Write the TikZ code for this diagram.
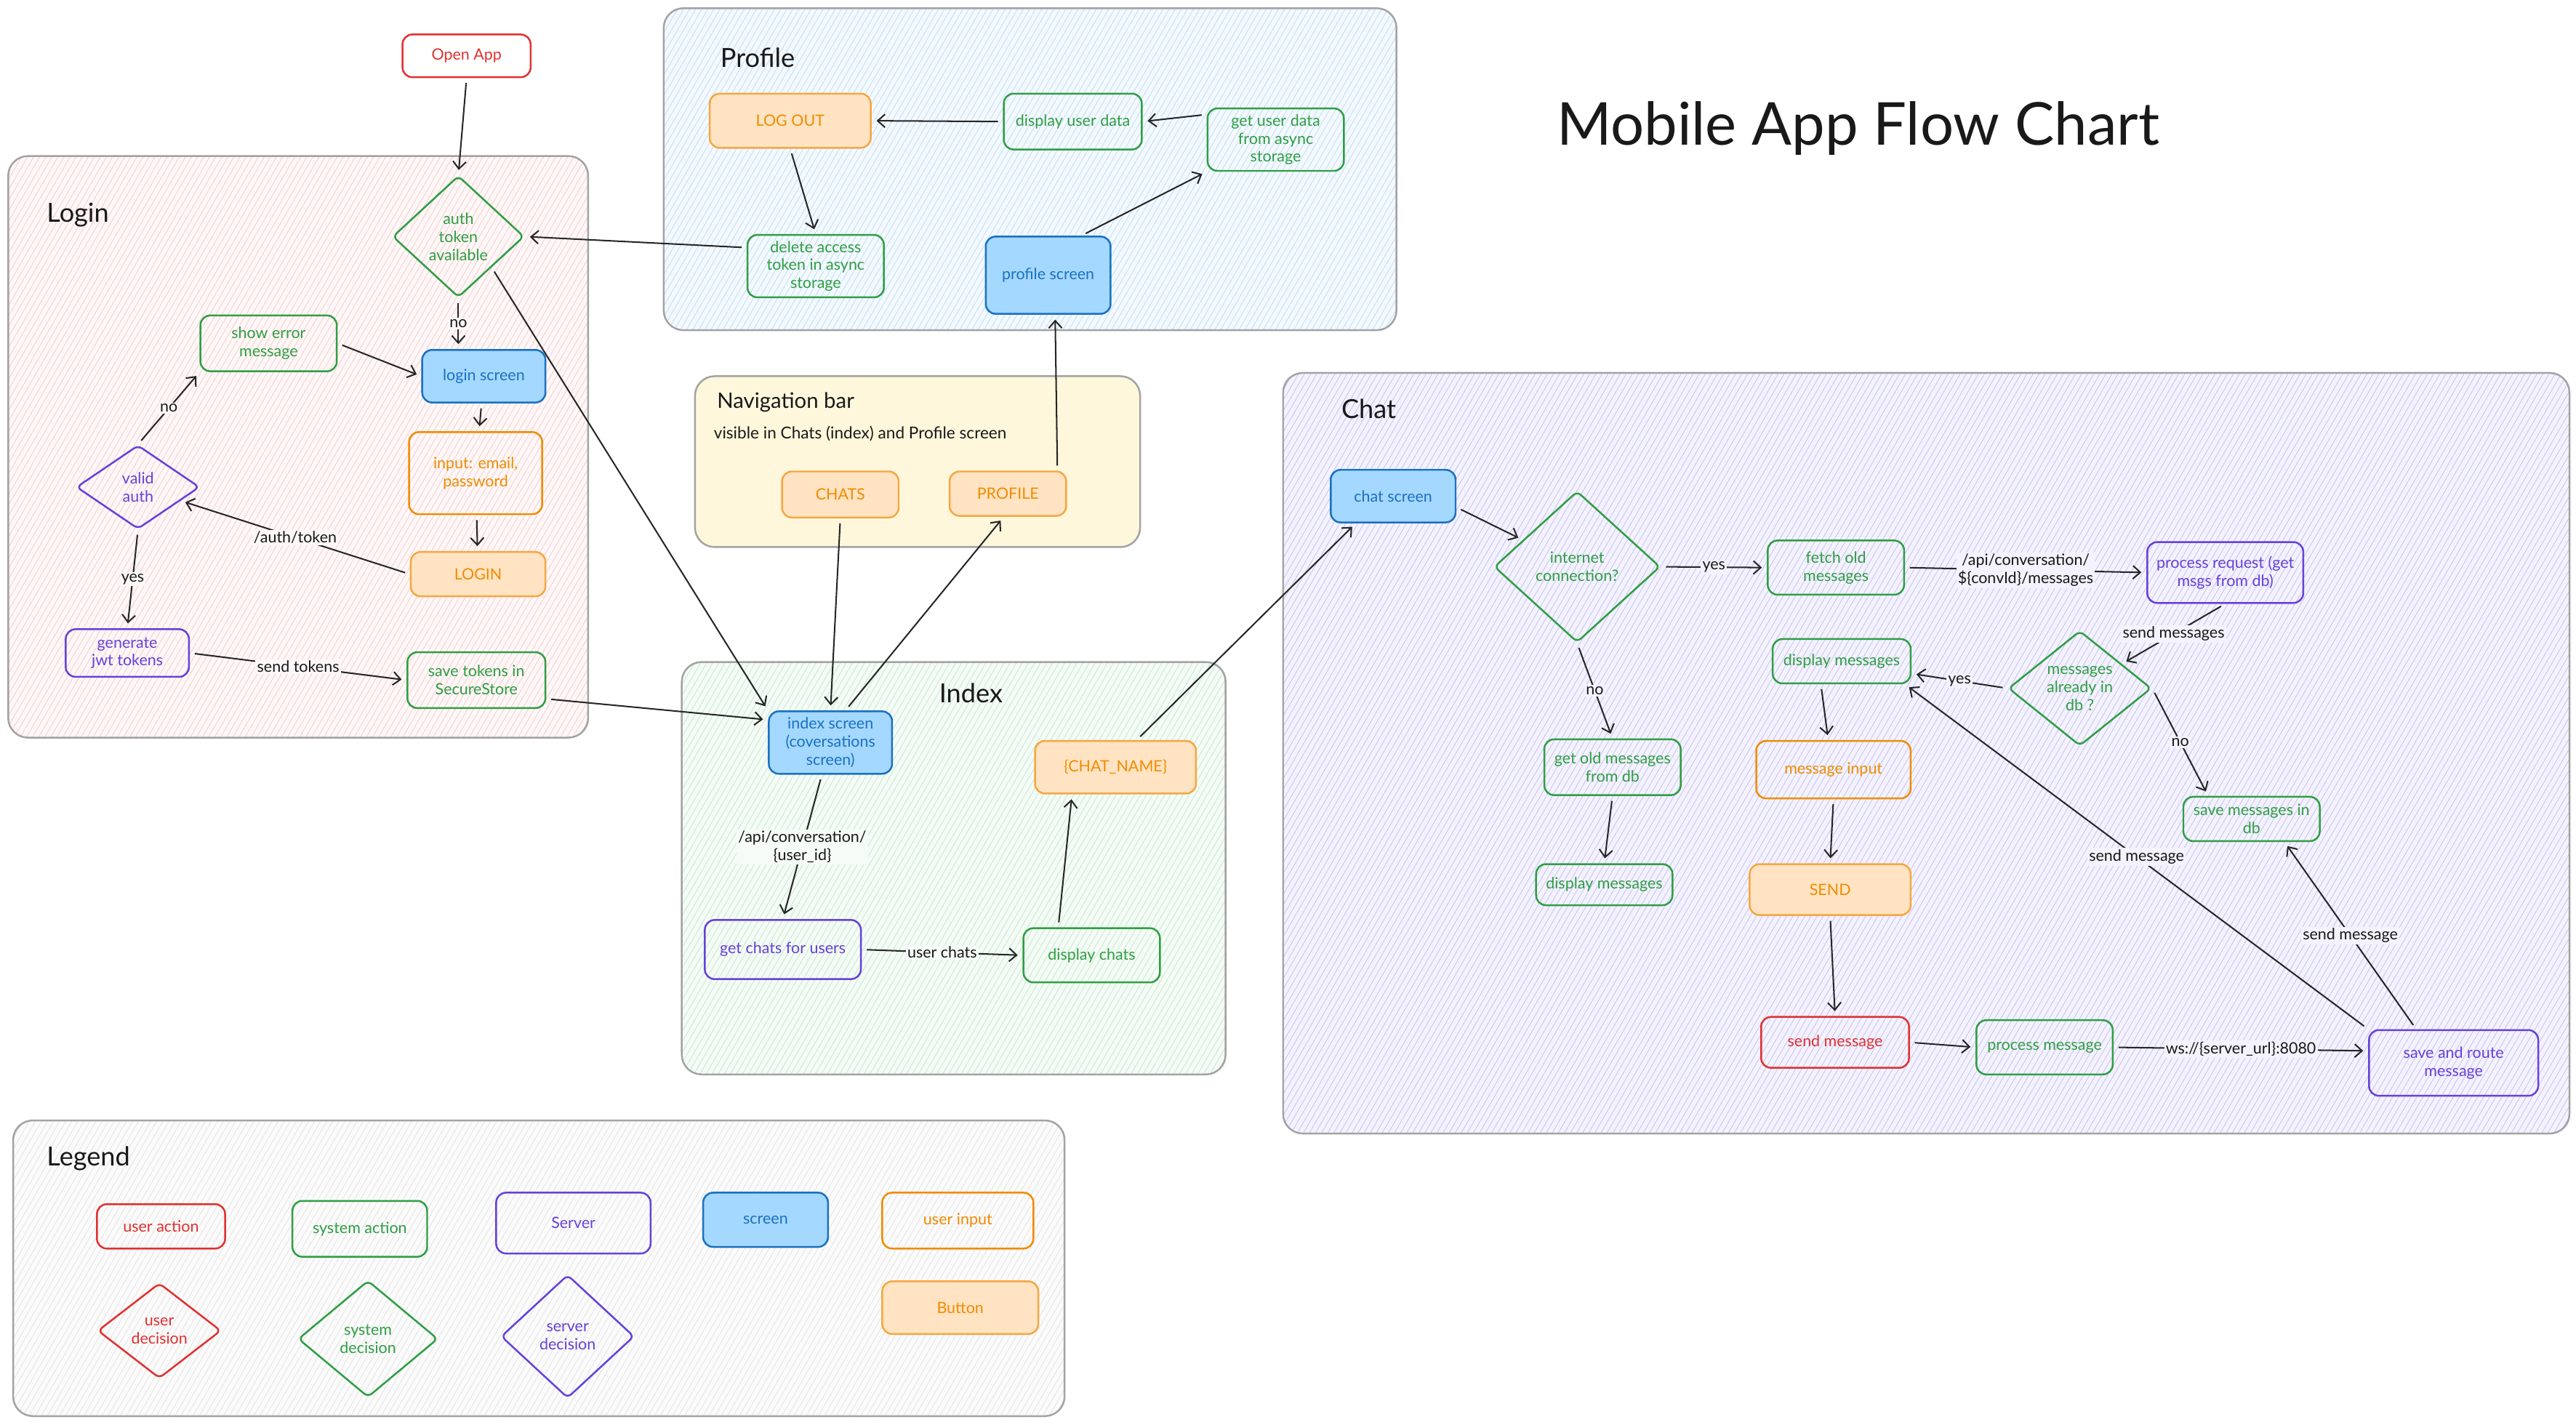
\documentclass[tikz,border=0pt]{standalone}
\usepackage{fontspec}
\setmainfont{Lato}
\usetikzlibrary{shapes.geometric,arrows.meta,patterns.meta,calc}
\definecolor{cred}{HTML}{E03131}
\definecolor{cgreen}{HTML}{2F9E44}
\definecolor{cpurple}{HTML}{6741D9}
\definecolor{cblue}{HTML}{1971C2}
\definecolor{cbluefill}{HTML}{A5D8FF}
\definecolor{corange}{HTML}{F08C00}
\definecolor{corangeln}{HTML}{F5A742}
\definecolor{corangefill}{HTML}{FFE3C2}
\definecolor{cgrey}{HTML}{A3A3A3}
\definecolor{loginbg}{HTML}{FEF7F7}
\definecolor{loginln}{HTML}{F6CFCF}
\definecolor{profbg}{HTML}{F4F9FE}
\definecolor{profln}{HTML}{C2E0F6}
\definecolor{indexbg}{HTML}{F5FBF6}
\definecolor{indexln}{HTML}{C6ECCB}
\definecolor{chatbg}{HTML}{F3F2FD}
\definecolor{chatln}{HTML}{CBC5F4}
\definecolor{legbg}{HTML}{FBFBFB}
\definecolor{legln}{HTML}{E4E4E4}
\definecolor{navbg}{HTML}{FFF7DC}
\tikzset{
  container/.style 2 args={draw=cgrey, line width=1.1pt, rounded corners=12pt,
    preaction={fill=#1}, pattern={Lines[angle=60,distance=3.2pt,line width=0.4pt]}, pattern color=#2},
  ctitle/.style={font=\fontsize{16}{19}\selectfont, anchor=west, text=black!90},
  wh/.style 2 args={minimum width=#1pt, minimum height=#2pt},
  bx/.style={draw=#1, text=#1, rounded corners=6pt, line width=1.1pt, align=center,
    inner sep=0.5pt, font=\fontsize{9.5}{11}\selectfont},
  scr/.style={bx=cblue, fill=cbluefill},
  btn/.style={bx=corange, draw=corangeln, fill=corangefill},
  dec/.style={diamond, draw=#1, text=#1, line width=1.1pt, rounded corners=3pt,
    align=center, inner sep=0pt, font=\fontsize{9.5}{11}\selectfont},
  arr/.style={-{Straight Barb[length=4.5pt,width=8pt,line width=0.9pt]}, line width=0.9pt,
    shorten >=3pt, shorten <=3pt, draw=black!85},
  lab/.style={font=\fontsize{9.5}{11}\selectfont, inner sep=1pt, align=center, fill=#1, text=black!90},
}
\begin{document}
\begin{tikzpicture}[x=1pt,y=-1pt]
\useasboundingbox (0,0) rectangle (1568,867);
% ---------------- containers
\path[container={loginbg}{loginln}] (5,95) rectangle (358,449);
\path[container={profbg}{profln}] (404,5) rectangle (850,201);
\path[draw=cgrey, line width=1.1pt, rounded corners=12pt, fill=navbg] (423,229) rectangle (694,333);
\path[container={indexbg}{indexln}] (415,403) rectangle (746,654);
\path[container={chatbg}{chatln}] (781,227) rectangle (1564,690);
\path[container={legbg}{legln}] (8,682) rectangle (648,862);
% ---------------- titles
\node[font=\fontsize{36}{40}\selectfont, text=black!90] (title) at (1131,78) {Mobile App Flow Chart};
\node[ctitle] (tlogin) at (25,131) {Login};
\node[ctitle] (tprof) at (435,35) {Profile};
\node[ctitle, font=\fontsize{13}{15}\selectfont] (tnav) at (433,245) {Navigation bar};
\node[ctitle, font=\fontsize{10}{12}\selectfont] (tnavsub) at (431,264) {visible in Chats (index) and Profile screen};
\node[ctitle, anchor=center] (tindex) at (591,422) {Index};
\node[ctitle] (tchat) at (813,249) {Chat};
\node[ctitle] (tleg) at (25,705) {Legend};
% ---------------- login
\node[bx=cred, wh={78}{26}] (openapp) at (284,34) {Open App};
\node[dec=cgreen, wh={80}{74}] (authtok) at (279,144) {auth\\token\\available};
\node[bx=cgreen, wh={83}{34}] (showerr) at (163.5,209) {show error\\message};
\node[scr, wh={75}{32}] (loginscr) at (294.5,229) {login screen};
\node[bx=corange, wh={81}{50}] (input) at (289.5,288) {input: email,\\password};
\node[btn, wh={82}{27}] (loginbtn) at (291,349.5) {LOGIN};
\node[dec=cpurple, wh={75}{51}] (validauth) at (84,296.5) {valid\\auth};
\node[bx=cpurple, wh={75}{29}] (genjwt) at (77.5,397.5) {generate\\jwt tokens};
\node[bx=cgreen, wh={84}{34}] (savetok) at (290,414) {save tokens in\\SecureStore};
% ---------------- profile
\node[btn, wh={98}{33}] (logout) at (481,73.5) {LOG OUT};
\node[bx=cgreen, wh={84}{34}] (dispuser) at (653,74) {display user data};
\node[bx=cgreen, wh={83}{38}] (getuser) at (776.5,85) {get user data\\from async\\storage};
\node[bx=cgreen, wh={83}{38}] (delacc) at (496.5,162) {delete access\\token in async\\storage};
\node[scr, wh={76}{47}] (profscr) at (638,167.5) {profile screen};
% ---------------- nav
\node[btn, wh={71}{28}] (chats) at (511.5,301) {CHATS};
\node[btn, wh={71}{27}] (profile) at (613.5,300.5) {PROFILE};
% ---------------- index
\node[scr, wh={75}{38}] (indexscr) at (505.5,452) {index screen\\(coversations\\screen)};
\node[bx=cpurple, wh={95}{36}] (getchats) at (476.5,578) {get chats for users};
\node[bx=cgreen, wh={83}{33}] (dispchats) at (664.5,581.5) {display chats};
\node[btn, wh={98}{32}] (chatname) at (679,467) {\{CHAT\_NAME\}};
% ---------------- chat
\node[scr, wh={76}{32}] (chatscr) at (848,302) {chat screen};
\node[dec=cgreen, wh={101}{92}] (internet) at (960,345) {internet\\connection?};
\node[bx=cgreen, wh={83}{33}] (fetchold) at (1117.5,345.5) {fetch old\\messages};
\node[bx=cpurple, wh={95}{37}] (procreq) at (1354.5,348.5) {process request (get\\msgs from db)};
\node[dec=cgreen, wh={87}{70}] (msgdb) at (1266,419) {messages\\already in\\db ?};
\node[bx=cgreen, wh={84}{27}] (dispmsg) at (1121,402.5) {display messages};
\node[bx=cgreen, wh={83}{34}] (getold) at (981.5,467) {get old messages\\from db};
\node[bx=cgreen, wh={83}{25}] (dispmsgtwo) at (976.5,538.5) {display messages};
\node[bx=corange, wh={94}{35}] (msginput) at (1116,468.5) {message input};
\node[btn, wh={98}{31}] (send) at (1114,541.5) {SEND};
\node[bx=cred, wh={90}{31}] (sendmsg) at (1117,634.5) {send message};
\node[bx=cgreen, wh={83}{33}] (procmsg) at (1244.5,637.5) {process message};
\node[bx=cpurple, wh={103}{40}] (saveroute) at (1493.5,647) {save and route\\message};
\node[bx=cgreen, wh={83}{27}] (savedb) at (1370.5,498.5) {save messages in\\db};
% ---------------- legend
\node[bx=cred, wh={78}{27}] (lgua) at (98,746.5) {user action};
\node[bx=cgreen, wh={82}{34}] (lgsa) at (219,748) {system action};
\node[bx=cpurple, wh={94}{37}] (lgsv) at (349,744.5) {Server};
\node[scr, wh={76}{33}] (lgscr) at (466,742.5) {screen};
\node[bx=corange, wh={92}{34}] (lgui) at (583,743) {user input};
\node[btn, wh={95}{32}] (lgbtn) at (584.5,796) {Button};
\node[dec=cred, wh={75}{58}] (ldua) at (97,810) {user\\decision};
\node[dec=cgreen, wh={85}{71}] (ldsa) at (224,815) {system\\decision};
\node[dec=cpurple, wh={81}{75}] (ldsv) at (345.5,813.5) {server\\decision};
% ---------------- edges: login
\draw[arr] (openapp.south) -- (authtok.north);
\draw[arr] (authtok.south) -- node[lab=loginbg]{no} (authtok.south |- loginscr.north);
\draw[arr] (showerr.east) -- (loginscr.west);
\draw[arr] (loginscr) -- (input);
\draw[arr] (input) -- (loginbtn);
\draw[arr] (loginbtn.west) -- node[lab=loginbg]{/auth/token} (validauth);
\draw[arr] (validauth.north) -- node[lab=loginbg]{no} (showerr.south west);
\draw[arr] (validauth.south) -- node[lab=loginbg]{yes} (genjwt.north);
\draw[arr] (genjwt.east) -- node[lab=loginbg]{send tokens} (savetok.west);
\draw[arr] (authtok.south east) -- (indexscr.north west);
\draw[arr] (savetok.-15) -- (indexscr.160);
% ---------------- edges: profile
\draw[arr] (delacc.165) -- (authtok.east);
\draw[arr] (logout.south) -- (delacc.north);
\draw[arr] (dispuser.west) -- (logout.east);
\draw[arr] (getuser.160) -- (dispuser.east);
\draw[arr] (profscr.50) -- (getuser.south west);
\draw[arr] (profile.25) -- (profscr.-80);
% ---------------- edges: nav / index
\draw[arr] (chats.south) -- (indexscr.north);
\draw[arr] (indexscr.65) -- (profile.-100);
\draw[arr] (indexscr.-105) -- node[lab=indexbg]{/api/conversation/\\\{user\_id\}} (getchats.north);
\draw[arr] (getchats.east) -- node[lab=indexbg]{user chats} (dispchats.west);
\draw[arr] (dispchats.140) -- (chatname.-148);
\draw[arr] (chatname.52) -- (chatscr.-144);
% ---------------- edges: chat
\draw[arr] (chatscr.-10) -- (internet);
\draw[arr] (internet.east) -- node[lab=chatbg]{yes} (fetchold.west);
\draw[arr] (internet.south) -- node[lab=chatbg]{no} (getold.north);
\draw[arr] (getold.south) -- (dispmsgtwo.north);
\draw[arr] (dispmsg.-132) -- (msginput.100);
\draw[arr] (msginput.south) -- (send.north);
\draw[arr] (send.south) -- (sendmsg.north);
\draw[arr] (sendmsg.east) -- (procmsg.west);
\draw[arr] (procmsg.east) -- node[lab=chatbg]{ws://\{server\_url\}:8080} (saveroute.172);
\draw[arr] (fetchold.east) -- node[lab=chatbg]{/api/conversation/\\\$\{convId\}/messages} (procreq.west);
\draw[arr] (procreq.south) -- node[lab=chatbg]{send messages} (msgdb);
\draw[arr] (msgdb.west) -- node[lab=chatbg]{yes} (dispmsg.-10);
\draw[arr] (msgdb.east) -- node[lab=chatbg]{no} (savedb.152);
\draw[arr] (saveroute.north west) -- node[lab=chatbg]{send message} (dispmsg.-20);
\draw[arr] (saveroute.138) -- node[lab=chatbg]{send message} (savedb.-35);
\end{tikzpicture}
\end{document}
